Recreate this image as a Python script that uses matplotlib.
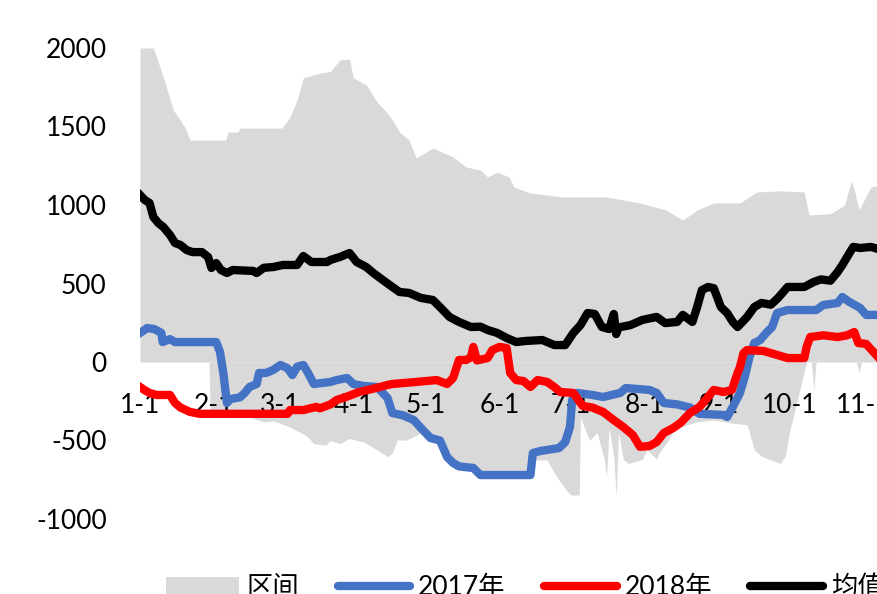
import matplotlib
matplotlib.use('Agg')
import matplotlib.pyplot as plt
from matplotlib.patches import Patch
from matplotlib.lines import Line2D

plt.rcParams['font.family'] = ['Lato', 'Noto Sans CJK SC', 'DejaVu Sans']
plt.rcParams['axes.unicode_minus'] = False

# month starts (day of year) and labels
month_days = [0, 31, 59, 90, 120, 151, 181, 212, 243, 273, 304, 334]
month_labels = ['1-1', '2-1', '3-1', '4-1', '5-1', '6-1', '7-1', '8-1', '9-1', '10-1', '11-1', '12-1']

# 区间 upper edge (max)
band_hi_day = [0, 5.6, 9.8, 14, 17, 19, 21, 36, 37, 41, 42, 59.6, 63, 66, 68.6, 75.6, 80, 84, 88,
               89.6, 95, 99.6, 104, 106, 109, 113, 116, 123, 131.5, 137, 143, 146, 150, 155, 157,
               164, 178, 196, 210, 221, 228, 234, 241, 252, 259, 269, 279, 281, 290, 296, 298,
               299, 300, 302, 307, 312, 320]
band_hi_val = [2000, 2000, 1815, 1605, 1540, 1490, 1414, 1414, 1465, 1465, 1490, 1490, 1560, 1670,
               1810, 1840, 1850, 1925, 1930, 1810, 1765, 1655, 1585, 1540, 1465, 1414, 1300, 1363,
               1306, 1242, 1223, 1178, 1210, 1178, 1115, 1076, 1051, 1051, 1013, 968, 904, 968,
               1013, 1013, 1083, 1090, 1083, 936, 945, 1000, 1115, 1150, 1100, 968, 1115, 1130, 1100]

# 区间 lower edge (min, only the part below zero)
band_lo_day = [0, 29, 29.5, 31, 46, 47, 52, 56, 63, 70, 73, 78, 80, 84, 88, 94, 99.6, 104, 106,
               108, 112, 118, 122, 126, 129, 131.5, 134, 140, 143, 164, 165, 171, 174, 176, 179,
               181, 184.5, 185, 188, 189, 192, 195, 196, 197, 199, 200, 201, 203, 205, 207, 211,
               213, 217, 218, 222, 224, 227, 234, 241, 249, 255, 258, 261, 265, 269, 271, 273,
               276, 279, 280, 282, 283, 284, 301, 302, 303, 320]
band_lo_val = [0, 0, -350, -340, -345, -357, -382, -375, -414, -470, -520, -530, -500, -520, -487,
               -510, -560, -603, -580, -497, -497, -452, -490, -510, -615, -650, -670, -680, -725,
               -725, -624, -624, -707, -752, -815, -847, -847, -350, -470, -497, -450, -620, -732,
               -420, -600, -860, -450, -620, -646, -640, -620, -560, -620, -580, -497, -433, -414,
               -380, -370, -390, -400, -560, -600, -624, -646, -600, -433, -250, -60, 0, 0, -180,
               0, 0, -70, 0, 0]

# 2017年
y2017_day = [0, 3, 6, 9, 9.5, 12.6, 14.7, 32, 33.6, 35, 36.5, 38, 42, 44, 46, 49, 50, 53, 56, 59,
             62, 64, 66, 68.6, 70.6, 73, 80, 82.6, 87, 89.6, 94, 99.6, 104, 106, 110.5, 115, 118,
             122, 126, 129, 131.5, 134, 140, 143, 164, 165, 168, 176, 178.6, 180.6, 181.5, 183.6,
             190, 194.5, 201.7, 204, 214, 217, 220, 225.6, 231, 235, 245, 246.6, 249, 252, 254,
             256, 258, 260.5, 263, 265.5, 267.6, 272, 284, 287, 293, 295, 298, 302.5, 305, 312]
y2017_val = [185, 216, 210, 185, 127, 146, 127, 127, 64, -70, -261, -236, -225, -197, -159, -140,
             -70, -70, -50, -19, -40, -83, -30, -19, -70, -140, -127, -115, -102, -140, -153, -159,
             -230, -325, -340, -370, -420, -484, -500, -605, -643, -665, -675, -720, -720, -580,
             -567, -548, -510, -414, -242, -197, -210, -223, -197, -166, -178, -197, -261, -270,
             -290, -330, -337, -350, -286, -197, -95, 32, 121, 140, 185, 223, 312, 331, 331, 363,
             376, 414, 382, 344, 300, 300]

# 2018年
y2018_day = [0, 2, 4, 7, 12.6, 14.7, 17, 21, 25, 62, 63, 68.6, 74, 75.6, 80, 82.6, 87, 92, 98,
             104, 106, 116, 124.6, 129, 131.5, 134, 137, 139, 140, 141.5, 146, 148, 151, 154,
             155.5, 158, 161, 164, 167, 171, 174, 176.5, 182, 185, 186, 190, 194.5, 199, 203, 207,
             210, 214, 217, 220, 224, 227, 231, 235, 238.6, 241, 245, 248.6, 251, 252, 253.5, 255,
             262, 267.6, 272, 279, 280, 281.5, 287, 293, 297, 300, 301.7, 305, 310, 312]
y2018_val = [-159, -180, -197, -210, -210, -261, -290, -318, -330, -330, -306, -306, -286, -295,
             -270, -242, -220, -191, -170, -146, -140, -127, -115, -140, -102, 13, 13, 30, 96, 10,
             25, 76, 96, 89, -70, -115, -121, -159, -115, -127, -159, -191, -197, -261, -280, -290,
             -318, -370, -414, -465, -540, -535, -510, -452, -420, -388, -325, -286, -223, -178,
             -191, -178, -70, -32, 57, 76, 70, 45, 25, 25, 96, 159, 170, 159, 170, 191, 121, 115,
             32, 20]

# 均值
mean_day = [0, 2, 4, 5.6, 7.7, 9.8, 12.6, 14.7, 17, 19.6, 22, 26, 28.6, 30, 32, 34, 36.5, 39,
            47.6, 49, 52, 56, 60, 66, 68.6, 72, 78.6, 80, 84, 88, 91, 95, 98, 102, 106, 109, 113,
            118, 123, 126, 130, 134, 139, 143, 146, 150, 154, 158, 162, 169, 174, 178.6, 182, 185,
            188, 191, 194, 197, 199, 200, 201, 206, 211, 217, 220.6, 225.6, 228, 232, 234, 236,
            238.6, 241, 244, 246.6, 249, 251, 255, 258, 261, 265, 268, 272, 279, 283, 286, 290,
            293, 295, 298, 299.6, 302.5, 307, 310, 313]
mean_val = [1064, 1032, 1013, 924, 885, 860, 809, 758, 745, 713, 700, 700, 669, 599, 630, 586, 567,
            586, 580, 567, 600, 605, 618, 618, 675, 637, 637, 650, 669, 694, 637, 605, 567, 522,
            478, 446, 440, 408, 395, 350, 287, 255, 223, 225, 204, 185, 153, 127, 134, 140, 108,
            108, 185, 235, 312, 306, 223, 210, 306, 178, 220, 235, 268, 287, 248, 255, 300, 255,
            350, 458, 478, 470, 350, 312, 255, 223, 287, 350, 376, 365, 408, 478, 478, 510, 526,
            518, 573, 618, 694, 733, 726, 733, 720, 700]

fig = plt.figure(figsize=(8.77, 5.94), dpi=100)
ax = fig.add_axes([140 / 877, 75 / 594, 869 / 877, 471 / 594])

gray = '#D9D9D9'
ax.fill_between(band_hi_day, 0, band_hi_val, color=gray, lw=0)
ax.fill_between(band_lo_day, band_lo_val, 0, color=gray, lw=0)
ax.plot(y2017_day, y2017_val, color='#4472C4', lw=6, solid_joinstyle='round')
ax.plot(y2018_day, y2018_val, color='#FF0000', lw=6, solid_joinstyle='round')
ax.plot(mean_day, mean_val, color='black', lw=6, solid_joinstyle='round')

ax.set_xlim(0, 365)
ax.set_ylim(-1000, 2000)
ax.set_yticks([-1000, -500, 0, 500, 1000, 1500, 2000])
ax.set_xticks(month_days, month_labels)
for s in ['top', 'right', 'left']:
    ax.spines[s].set_visible(False)
ax.spines['bottom'].set_position(('data', 0))
ax.spines['bottom'].set_visible(False)
ax.tick_params(axis='x', length=0, pad=22, labelsize=19)
ax.tick_params(axis='y', length=0, pad=24, labelsize=19)

handles = [Patch(facecolor=gray, edgecolor='none'),
           Line2D([], [], color='#4472C4', lw=6, solid_capstyle='round'),
           Line2D([], [], color='#FF0000', lw=6, solid_capstyle='round'),
           Line2D([], [], color='black', lw=6, solid_capstyle='round')]
fig.legend(handles, ['区间', '2017年', '2018年', '均值'], loc='upper left',
           bbox_to_anchor=(153 / 877, 1 - 562 / 594), ncol=4, frameon=False,
           borderpad=0, fontsize=19, handlelength=2.75, handletextpad=0.3,
           columnspacing=1.45)

fig.savefig('out.png', dpi=100)
